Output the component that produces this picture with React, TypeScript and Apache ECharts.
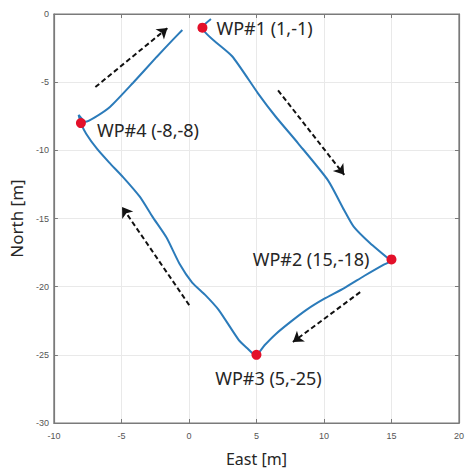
import React, { useEffect, useRef } from "react";
import * as echarts from "echarts";

const xTicks = [-10, 20, 5];
const yTicks = [-30, 0, 5];

const waypointNames = ["WP#1 (1,-1)", "WP#2 (15,-18)", "WP#3 (5,-25)", "WP#4 (-8,-8)"];
const waypointX = [1, 15, 5, -8];
const waypointY = [-1, -18, -25, -8];

const trajX = [
  1.63, 1.0, 3.2, 5.1, 6.4, 8.1, 10.3, 11.5, 12.2, 13.4, 14.9,
  15.0, 14.4, 13.0, 11.5, 10.0, 8.7, 7.5, 6.4, 5.6, 5.0,
  4.9, 4.3, 3.68, 2.2, 1.2, 0.24, -0.71, -1.66, -2.68, -3.64, -4.88, -5.9, -6.8, -7.6, -8.0, -8.17,
  -7.66, -7.0, -5.83, -4.15, -2.39, -1.2, -0.49,
];
const trajY = [
  -0.37, -1.0, -3.1, -5.8, -7.5, -9.5, -12.2, -14.4, -15.6, -16.8, -18.05,
  -18.1, -18.4, -19.2, -20.1, -20.9, -21.7, -22.6, -23.5, -24.3, -25.0,
  -25.0, -24.5, -23.9, -21.7, -20.6, -19.7, -18.3, -16.4, -14.9, -13.4, -11.96, -10.9, -9.9, -8.8, -8.0, -7.4,
  -7.9, -7.6, -6.8, -5.06, -3.15, -1.9, -1.17,
];

const arrowStartX = [-6.93, 6.6, 12.68, 0.02];
const arrowStartY = [-5.36, -5.6, -20.4, -21.35];
const arrowEndX = [-1.59, 11.5, 7.7, -4.95];
const arrowEndY = [-1.03, -11.8, -24.06, -14.16];

const labelPos: any[] = [
  { position: "right", offset: [4, 0] },
  { position: "left", offset: [-12, 0] },
  { position: "bottom", offset: [12, 4] },
  { position: "right", offset: [6, 7] },
];

export default function App() {
  const ref = useRef<HTMLDivElement>(null);
  useEffect(() => {
    if (!ref.current) return;
    document.body.style.margin = "0";
    const chart = echarts.init(ref.current, undefined, { renderer: "svg" });
    const axisColor = "#7a7a7a";
    const gridColor = "#e9e9e9";
    const tickLabel = { color: "#555", fontSize: 9, fontFamily: "Liberation Sans, Arial, sans-serif" };
    const baseX = {
      type: "value",
      min: xTicks[0],
      max: xTicks[1],
      interval: xTicks[2],
      axisLine: { show: true, onZero: false, lineStyle: { color: axisColor, width: 1.2 } },
      axisTick: { show: true, inside: true, length: 4, lineStyle: { color: axisColor } },
    };
    const baseY = {
      type: "value",
      min: yTicks[0],
      max: yTicks[1],
      interval: yTicks[2],
      axisLine: { show: true, onZero: false, lineStyle: { color: axisColor, width: 1.2 } },
      axisTick: { show: true, inside: true, length: 4, lineStyle: { color: axisColor } },
    };
    chart.setOption({
      animation: false,
      backgroundColor: "#ffffff",
      grid: {
        left: 53,
        top: 14,
        width: 409,
        height: 409,
        containLabel: false,
        show: true,
        borderColor: axisColor,
        borderWidth: 1.2,
        backgroundColor: "rgba(255,255,255,0)",
      },
      xAxis: [
        {
          ...baseX,
          position: "bottom",
          name: "East [m]",
          nameLocation: "middle",
          nameGap: 28,
          nameTextStyle: { color: "#262626", fontSize: 16, fontFamily: "Noto Sans, sans-serif" },
          axisLabel: { ...tickLabel, margin: 8 },
          splitLine: { show: true, lineStyle: { color: gridColor, width: 1 } },
        },
        {
          ...baseX,
          position: "top",
          axisLabel: { show: false },
          splitLine: { show: false },
        },
      ],
      yAxis: [
        {
          ...baseY,
          position: "left",
          name: "North [m]",
          nameLocation: "middle",
          nameGap: 27,
          nameTextStyle: { color: "#262626", fontSize: 17, fontFamily: "Noto Sans, sans-serif" },
          axisLabel: { ...tickLabel, margin: 5 },
          splitLine: { show: true, lineStyle: { color: gridColor, width: 1 } },
        },
        {
          ...baseY,
          position: "right",
          axisLabel: { show: false },
          splitLine: { show: false },
        },
      ],
      series: [
        {
          type: "line",
          data: trajX.map((x, i) => [x, trajY[i]]),
          showSymbol: false,
          smooth: 0.2,
          lineStyle: { color: "#2b7bba", width: 2 },
          z: 3,
        },
        {
          type: "lines",
          coordinateSystem: "cartesian2d",
          data: arrowStartX.map((x, i) => ({
            coords: [
              [x, arrowStartY[i]],
              [arrowEndX[i], arrowEndY[i]],
            ],
          })),
          symbol: ["none", "arrow"],
          symbolSize: 10,
          lineStyle: { color: "#111", width: 2, type: [5, 3], opacity: 1 },
          z: 4,
        },
        {
          type: "scatter",
          data: waypointX.map((x, i) => ({
            value: [x, waypointY[i]],
            name: waypointNames[i],
            label: {
              show: true,
              formatter: waypointNames[i],
              ...labelPos[i],
            },
          })),
          symbolSize: 10,
          itemStyle: { color: "#e3102a", opacity: 1 },
          label: { color: "#262626", fontSize: 18, fontFamily: "Noto Sans, sans-serif" },
          z: 5,
        },
      ],
    });
    return () => chart.dispose();
  }, []);
  return <div ref={ref} style={{ width: 467, height: 472 }} />;
}
